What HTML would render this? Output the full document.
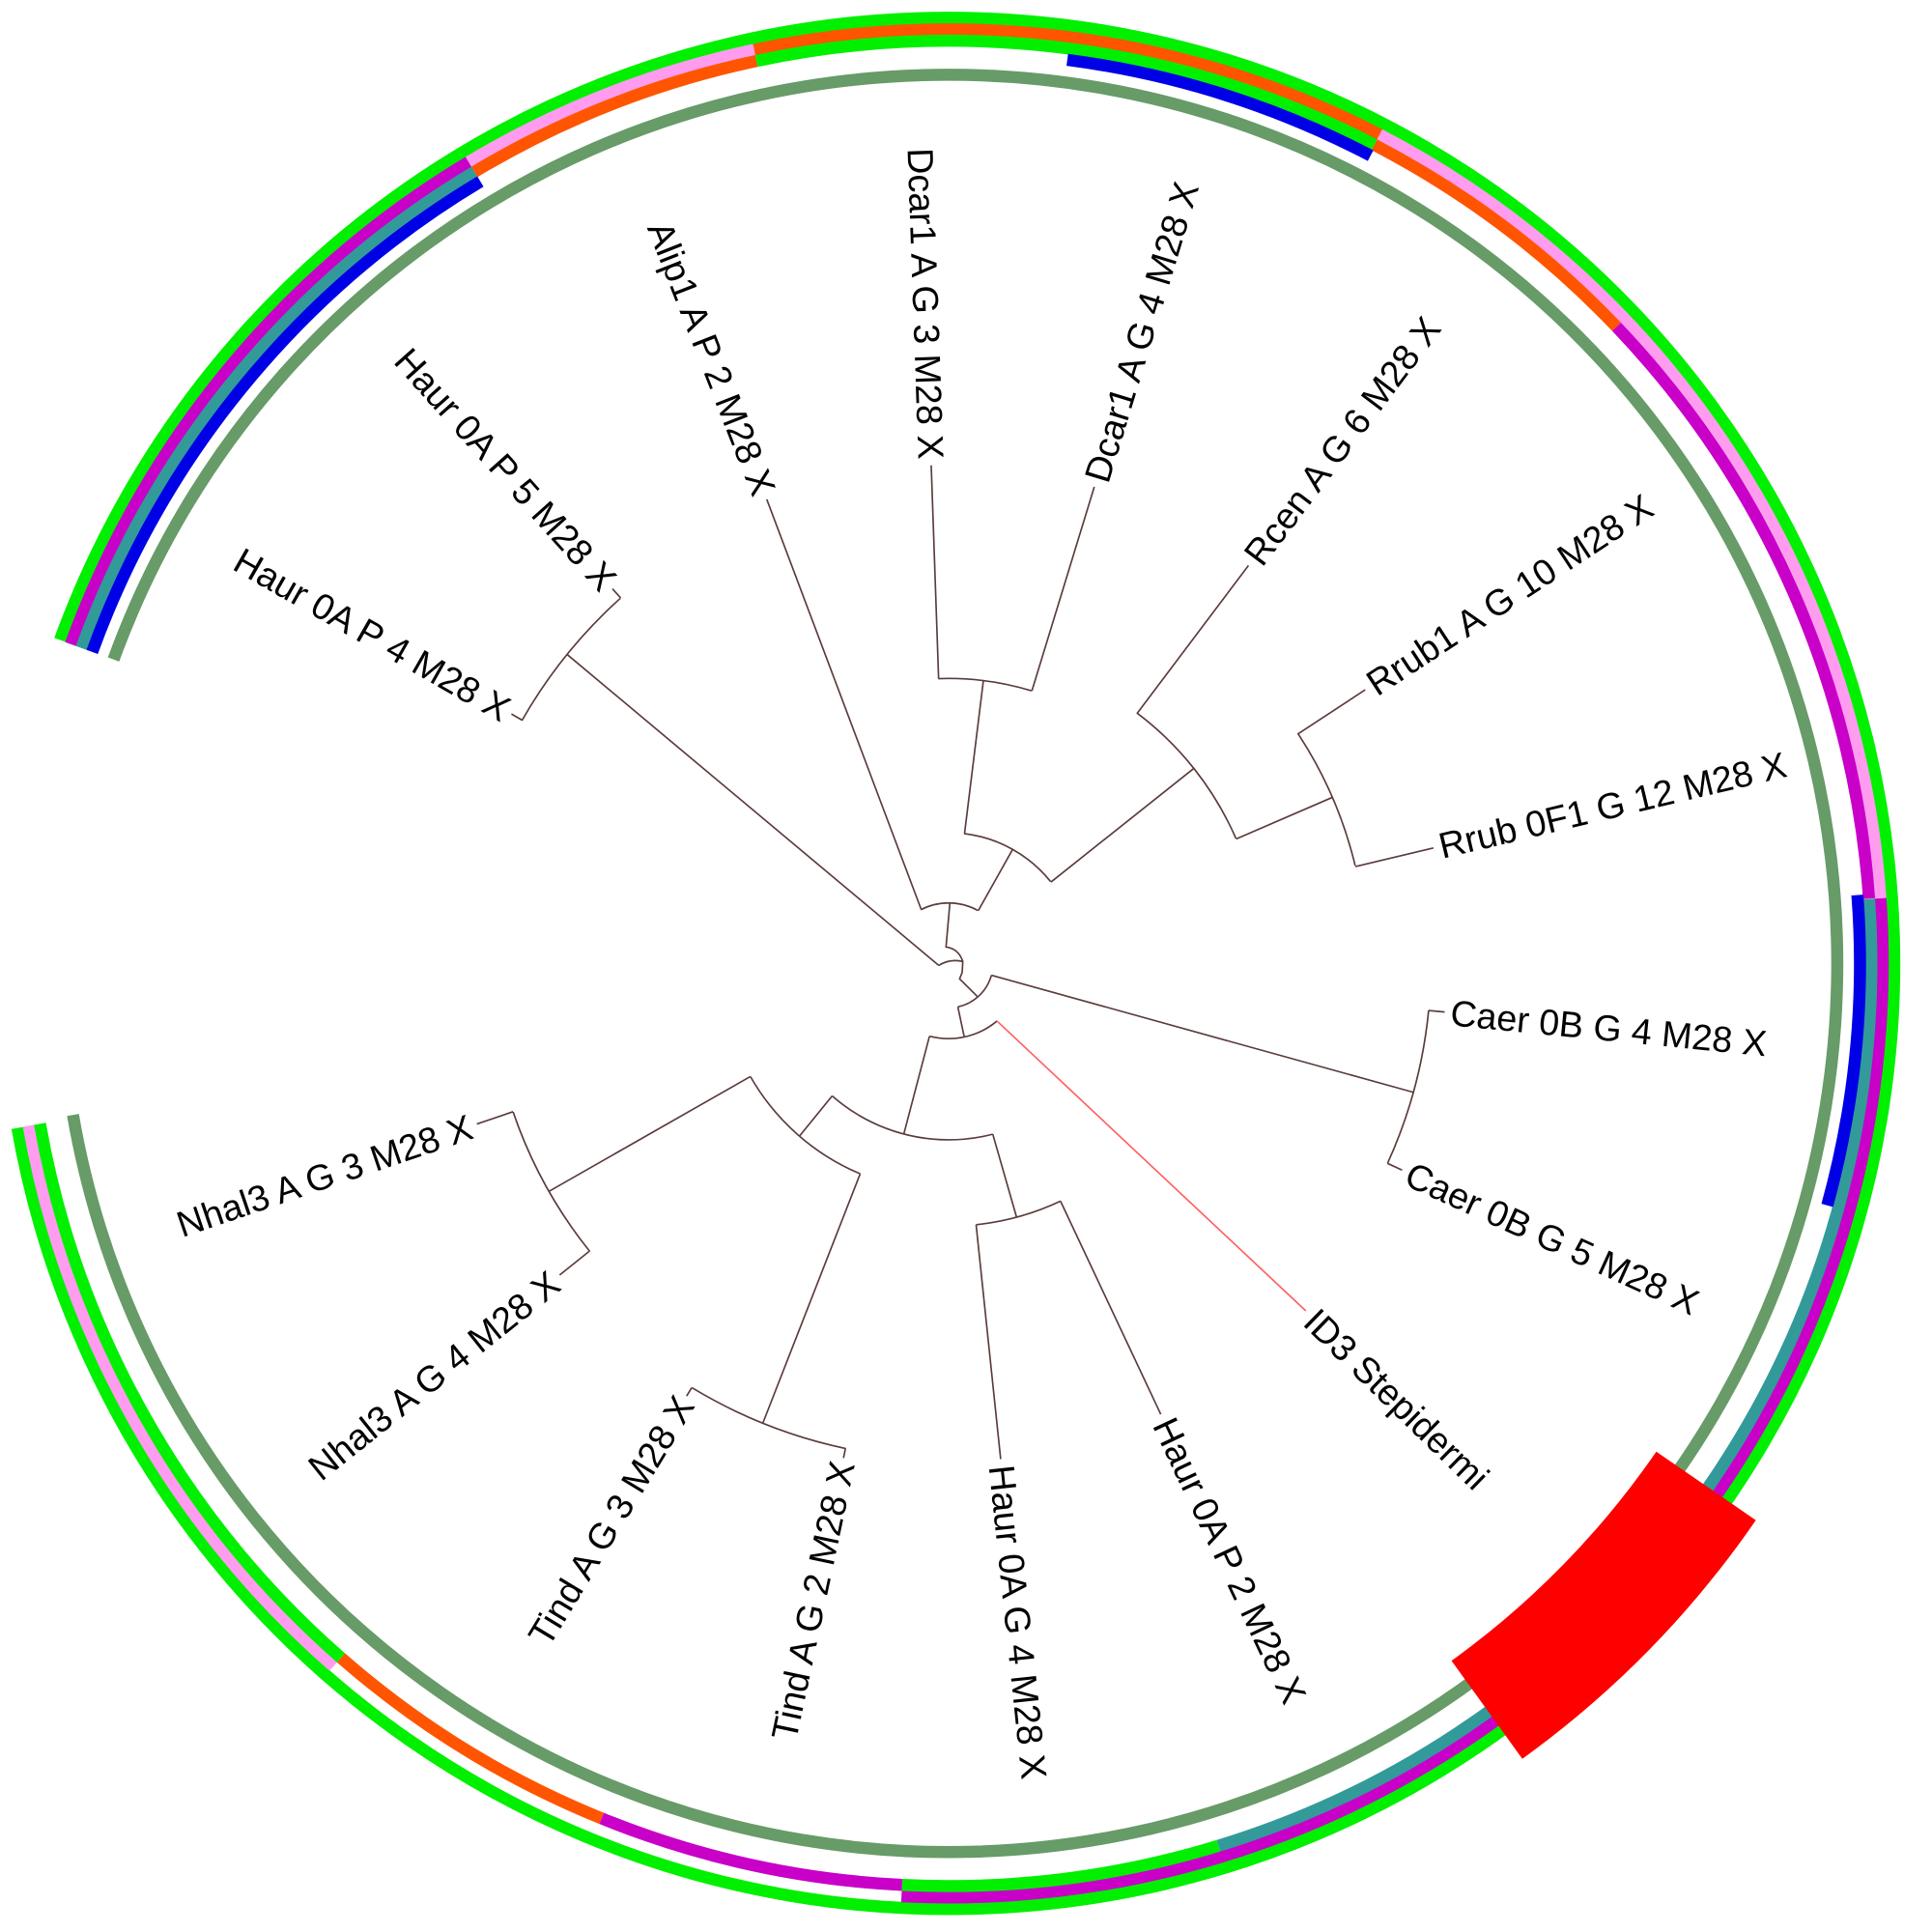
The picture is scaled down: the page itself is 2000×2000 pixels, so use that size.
<!DOCTYPE html>
<html><head><meta charset="utf-8"><style>
html,body{margin:0;padding:0;background:#fff;width:2000px;height:2000px;overflow:hidden;}
svg{display:block;position:absolute;left:0;top:0;}
text{font-family:"Liberation Sans",Arial,sans-serif;font-size:29.5px;fill:#000;dominant-baseline:central;}
</style></head><body>
<svg width="2000" height="2000" viewBox="0 0 1566.2 1566.2" xmlns="http://www.w3.org/2000/svg">
<g fill="none" stroke-width="9.8">
<circle cx="769" cy="781" r="720.4" pathLength="360" stroke="#679b68" stroke-dasharray="330.2 400" transform="rotate(200 769 781)"/>
<circle cx="769" cy="781" r="766.6" pathLength="360" stroke="#00f000" stroke-dasharray="330 400" transform="rotate(200 769 781)"/>
<circle cx="769" cy="781" r="757.2" pathLength="360" stroke="#c800c8" stroke-dasharray="39.1 400" stroke-dashoffset="-200"/>
<circle cx="769" cy="781" r="757.2" pathLength="360" stroke="#ff9cf0" stroke-dasharray="18.9 400" stroke-dashoffset="-239.1"/>
<circle cx="769" cy="781" r="757.2" pathLength="360" stroke="#ff5500" stroke-dasharray="39.5 400" stroke-dashoffset="-258"/>
<circle cx="769" cy="781" r="757.2" pathLength="360" stroke="#ff9cf0" stroke-dasharray="58.5 400" stroke-dashoffset="-297.5"/>
<circle cx="769" cy="781" r="757.2" pathLength="360" stroke="#c800c8" stroke-dasharray="96.9 400" transform="rotate(356 769 781)"/>
<circle cx="769" cy="781" r="757.2" pathLength="360" stroke="#ff9cf0" stroke-dasharray="38.8 400" stroke-dashoffset="-131.2"/>
<circle cx="769" cy="781" r="748" pathLength="360" stroke="#339a9a" stroke-dasharray="39.1 400" stroke-dashoffset="-200"/>
<circle cx="769" cy="781" r="748" pathLength="360" stroke="#ff5500" stroke-dasharray="18.9 400" stroke-dashoffset="-239.1"/>
<circle cx="769" cy="781" r="748" pathLength="360" stroke="#00f000" stroke-dasharray="39.5 400" stroke-dashoffset="-258"/>
<circle cx="769" cy="781" r="748" pathLength="360" stroke="#ff5500" stroke-dasharray="18.9 400" stroke-dashoffset="-297.5"/>
<circle cx="769" cy="781" r="748" pathLength="360" stroke="#c800c8" stroke-dasharray="39.6 400" stroke-dashoffset="-316.4"/>
<circle cx="769" cy="781" r="748" pathLength="360" stroke="#339a9a" stroke-dasharray="77 400" transform="rotate(356 769 781)"/>
<circle cx="769" cy="781" r="748" pathLength="360" stroke="#00f000" stroke-dasharray="19.9 400" stroke-dashoffset="-73"/>
<circle cx="769" cy="781" r="748" pathLength="360" stroke="#c800c8" stroke-dasharray="19.2 400" stroke-dashoffset="-92.9"/>
<circle cx="769" cy="781" r="748" pathLength="360" stroke="#ff5500" stroke-dasharray="19.1 400" stroke-dashoffset="-112.1"/>
<circle cx="769" cy="781" r="748" pathLength="360" stroke="#00f000" stroke-dasharray="38.8 400" stroke-dashoffset="-131.2"/>
<circle cx="769" cy="781" r="738.8" pathLength="360" stroke="#0000e6" stroke-dasharray="39.1 400" stroke-dashoffset="-200"/>
<circle cx="769" cy="781" r="738.8" pathLength="360" stroke="#0000e6" stroke-dasharray="20.1 400" stroke-dashoffset="-277.5"/>
<circle cx="769" cy="781" r="738.8" pathLength="360" stroke="#0000e6" stroke-dasharray="19.7 400" transform="rotate(355.7 769 781)"/>
</g>
<path d="M1342.7,1176.8 L1423.4,1232.4 A795 795 0 0 1 1234.1,1425.8 L1176.7,1346.3 A697 697 0 0 0 1342.7,1176.8 Z" fill="#ff0000"/>

<g fill="none" stroke="#5b3b3b" stroke-width="1.3">
<circle cx="769" cy="781" r="231" pathLength="360" stroke-dasharray="19 400" stroke-dashoffset="-268"/>
<circle cx="769" cy="781" r="106" pathLength="360" stroke-dasharray="44.5 400" stroke-dashoffset="-277"/>
<circle cx="769" cy="781" r="254" pathLength="360" stroke-dasharray="29.6 400" stroke-dashoffset="-307"/>
<circle cx="769" cy="781" r="339" pathLength="360" stroke-dasharray="19.9 400" stroke-dashoffset="-326.7"/>
<circle cx="769" cy="781" r="49" pathLength="360" stroke-dasharray="56.3 400" stroke-dashoffset="-243"/>
<circle cx="769" cy="781" r="398" pathLength="360" stroke-dasharray="18.4 400" stroke-dashoffset="-209.7"/>
<circle cx="769" cy="781" r="36" pathLength="360" stroke-dasharray="62.5 400" stroke-dashoffset="-15.5"/>
<circle cx="769" cy="781" r="391" pathLength="360" stroke-dasharray="18.9 400" stroke-dashoffset="-5.6"/>
<circle cx="769" cy="781" r="61" pathLength="360" stroke-dasharray="54.7 400" stroke-dashoffset="-50"/>
<circle cx="769" cy="781" r="143" pathLength="360" stroke-dasharray="55.8 400" stroke-dashoffset="-75.5"/>
<circle cx="769" cy="781" r="213" pathLength="360" stroke-dasharray="19.2 400" stroke-dashoffset="-64.8"/>
<circle cx="769" cy="781" r="185" pathLength="360" stroke-dasharray="37.5 400" stroke-dashoffset="-112.8"/>
<circle cx="769" cy="781" r="402" pathLength="360" stroke-dasharray="19.2 400" stroke-dashoffset="-102"/>
<circle cx="769" cy="781" r="373" pathLength="360" stroke-dasharray="19.9 400" stroke-dashoffset="-141.3"/>
<path d="M760.9,550.1 L754.9,377.2 M836.5,560.1 L887.1,394.7 M781.9,675.8 L797.2,551.7 M793,738.3 L820.9,688.6 M852,715 L967.8,622.9 M921.9,578.2 L1012.1,458.4 M1002.1,680.1 L1080.1,646.4 M1052.3,594.9 L1106.7,559.2 M1098.8,702.5 L1162,687.4 M803.7,790.6 L1145.8,885.5 M1158.1,819.2 L1171.1,820.4 M1124.8,943.1 L1136.6,948.5 M776.5,816.2 L781.7,840.7 M753.5,840 L732.7,919.3 M804.8,919.4 L824.1,986.7 M859.7,973.7 L941,1146.5 M791.3,992.8 L811.2,1182.8 M674.6,888.4 L648.1,921 M697.3,951.6 L618.4,1153.7 M685.4,1174.2 L683.8,1182 M560.8,1124.9 L556.6,1131.7 M608.3,872.7 L445,965.8 M477.9,1014.2 L453.7,1033.6 M415.9,901.2 L386.6,911.2 M761,782.6 L459.7,530.5 M423.3,583.8 L414.6,578.8 M503.2,484.8 L496.5,477.3 M746.8,737.3 L621.6,404.8 M770,732.5 L766.9,767.7 Q777,769 780.5,779.4 M761,782.6 Q770,777 780.5,779.4 L780,788.3 L777.9,793.5 L792.3,807.8"/>
</g>
<path d="M808.2,827.7 L1058.6,1062.7" stroke="#ff6060" stroke-width="1.3" fill="none"/>

<text x="754.7" y="372.2" text-anchor="end" transform="rotate(88 754.7 372.2)">Dcar1 A G 3 M28 X</text>
<text x="888.6" y="389.9" transform="rotate(-73 888.6 389.9)">Dcar1 A G 4 M28 X</text>
<text x="1015.1" y="454.4" transform="rotate(-53 1015.1 454.4)">Rcen A G 6 M28 X</text>
<text x="1110.8" y="556.5" transform="rotate(-33.3 1110.8 556.5)">Rrub1 A G 10 M28 X</text>
<text x="1166.9" y="686.2" transform="rotate(-13.4 1166.9 686.2)">Rrub 0F1 G 12 M28 X</text>
<text x="1176" y="820.9" transform="rotate(5.6 1176 820.9)">Caer 0B G 4 M28 X</text>
<text x="1141.2" y="950.6" transform="rotate(24.5 1141.2 950.6)">Caer 0B G 5 M28 X</text>
<text x="1062.2" y="1066.2" transform="rotate(44.2 1062.2 1066.2)">ID3 Stepidermi</text>
<text x="943.2" y="1151.1" transform="rotate(64.8 943.2 1151.1)">Haur 0A P 2 M28 X</text>
<text x="811.7" y="1187.8" transform="rotate(84 811.7 1187.8)">Haur 0A G 4 M28 X</text>
<text x="683.1" y="1185" text-anchor="end" transform="rotate(-78 683.1 1185)">Tind A G 2 M28 X</text>
<text x="555.1" y="1134.3" text-anchor="end" transform="rotate(-58.8 555.1 1134.3)">Tind A G 3 M28 X</text>
<text x="449.8" y="1036.7" text-anchor="end" transform="rotate(-38.7 449.8 1036.7)">Nhal3 A G 4 M28 X</text>
<text x="381.8" y="912.8" text-anchor="end" transform="rotate(-18.8 381.8 912.8)">Nhal3 A G 3 M28 X</text>
<text x="411.1" y="576.9" text-anchor="end" transform="rotate(29.7 411.1 576.9)">Haur 0A P 4 M28 X</text>
<text x="493.9" y="474.4" text-anchor="end" transform="rotate(48.1 493.9 474.4)">Haur 0A P 5 M28 X</text>
<text x="619.8" y="400.2" text-anchor="end" transform="rotate(68.6 619.8 400.2)">Alip1 A P 2 M28 X</text>
</svg>
</body></html>
